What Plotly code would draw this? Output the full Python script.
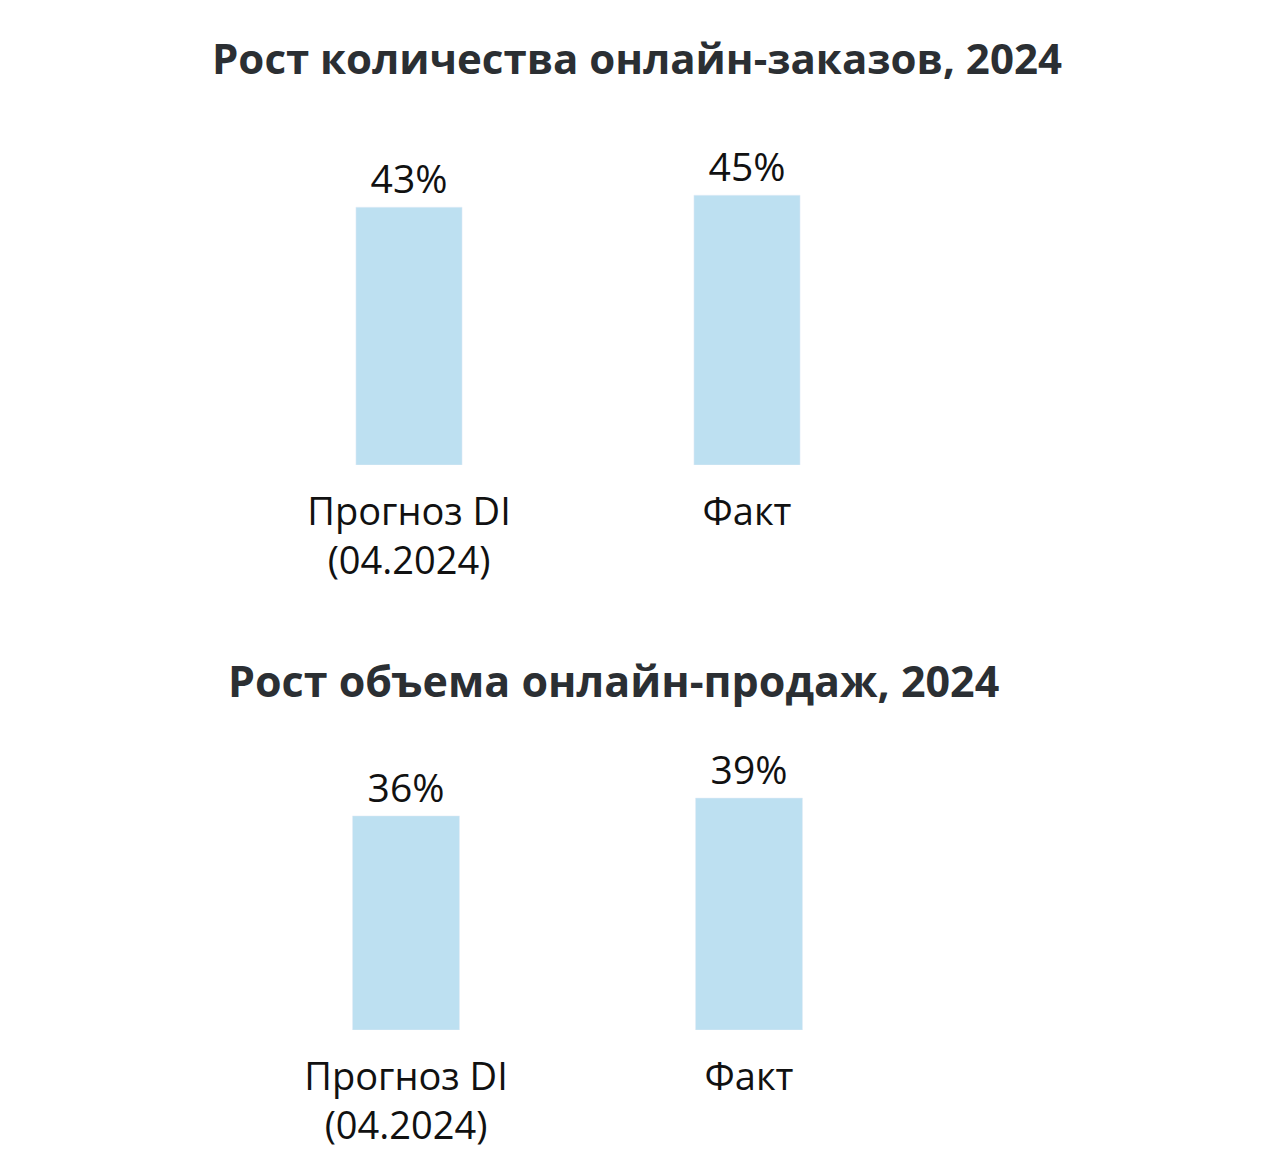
import plotly.graph_objects as go

W, H = 1280, 1172
OFF = 8  # page body margin in the browser

categories = ["Прогноз DI<br>(04.2024)", "Факт"]
orders_growth = [43, 45]
sales_growth = [36, 39]
titles = ["Рост количества онлайн-заказов, 2024", "Рост объема онлайн-продаж, 2024"]

BAR = "#BDE0F1"
FONT = "Open Sans"


def px_x(p):
    return (p - OFF) / W


def px_y(p):
    return 1 - (p - OFF) / H


fig = go.Figure()

fig.add_trace(go.Bar(x=categories, y=orders_growth, xaxis="x", yaxis="y",
                     marker_color=BAR, width=0.314,
                     text=[f"{v}%" for v in orders_growth], textposition="outside",
                     textfont=dict(size=39, color="#111111", family=FONT),
                     cliponaxis=False, hoverinfo="skip"))
fig.add_trace(go.Bar(x=categories, y=sales_growth, xaxis="x2", yaxis="y2",
                     marker_color=BAR, width=0.312,
                     text=[f"{v}%" for v in sales_growth], textposition="outside",
                     textfont=dict(size=39, color="#111111", family=FONT),
                     cliponaxis=False, hoverinfo="skip"))

axis_x = dict(showgrid=False, zeroline=False, showline=False, ticks="",
              tickfont=dict(size=38, color="#111111", family=FONT), ticklabelstandoff=21)
axis_y = dict(visible=False, showgrid=False, zeroline=False)

fig.update_layout(
    width=W, height=H,
    margin=dict(l=0, r=0, t=0, b=0),
    paper_bgcolor="white", plot_bgcolor="white",
    showlegend=False,
    xaxis=dict(axis_x, domain=[px_x(240), px_x(916)], anchor="y"),
    yaxis=dict(axis_y, domain=[px_y(465), px_y(140)], range=[0, 54.2], anchor="x"),
    xaxis2=dict(axis_x, domain=[px_x(234.5), px_x(920.5)], anchor="y2"),
    yaxis2=dict(axis_y, domain=[px_y(1030), px_y(760)], range=[0, 45.4], anchor="x2"),
    annotations=[
        dict(text=f"<b>{titles[0]}</b>", x=px_x(637), y=px_y(58), xref="paper", yref="paper",
             xanchor="center", yanchor="middle", showarrow=False,
             font=dict(size=42, color="#2B2F33", family=FONT)),
        dict(text=f"<b>{titles[1]}</b>", x=px_x(613), y=px_y(680), xref="paper", yref="paper",
             xanchor="center", yanchor="middle", showarrow=False,
             font=dict(size=43, color="#2B2F33", family=FONT)),
    ],
)

fig.write_html("out.html")
